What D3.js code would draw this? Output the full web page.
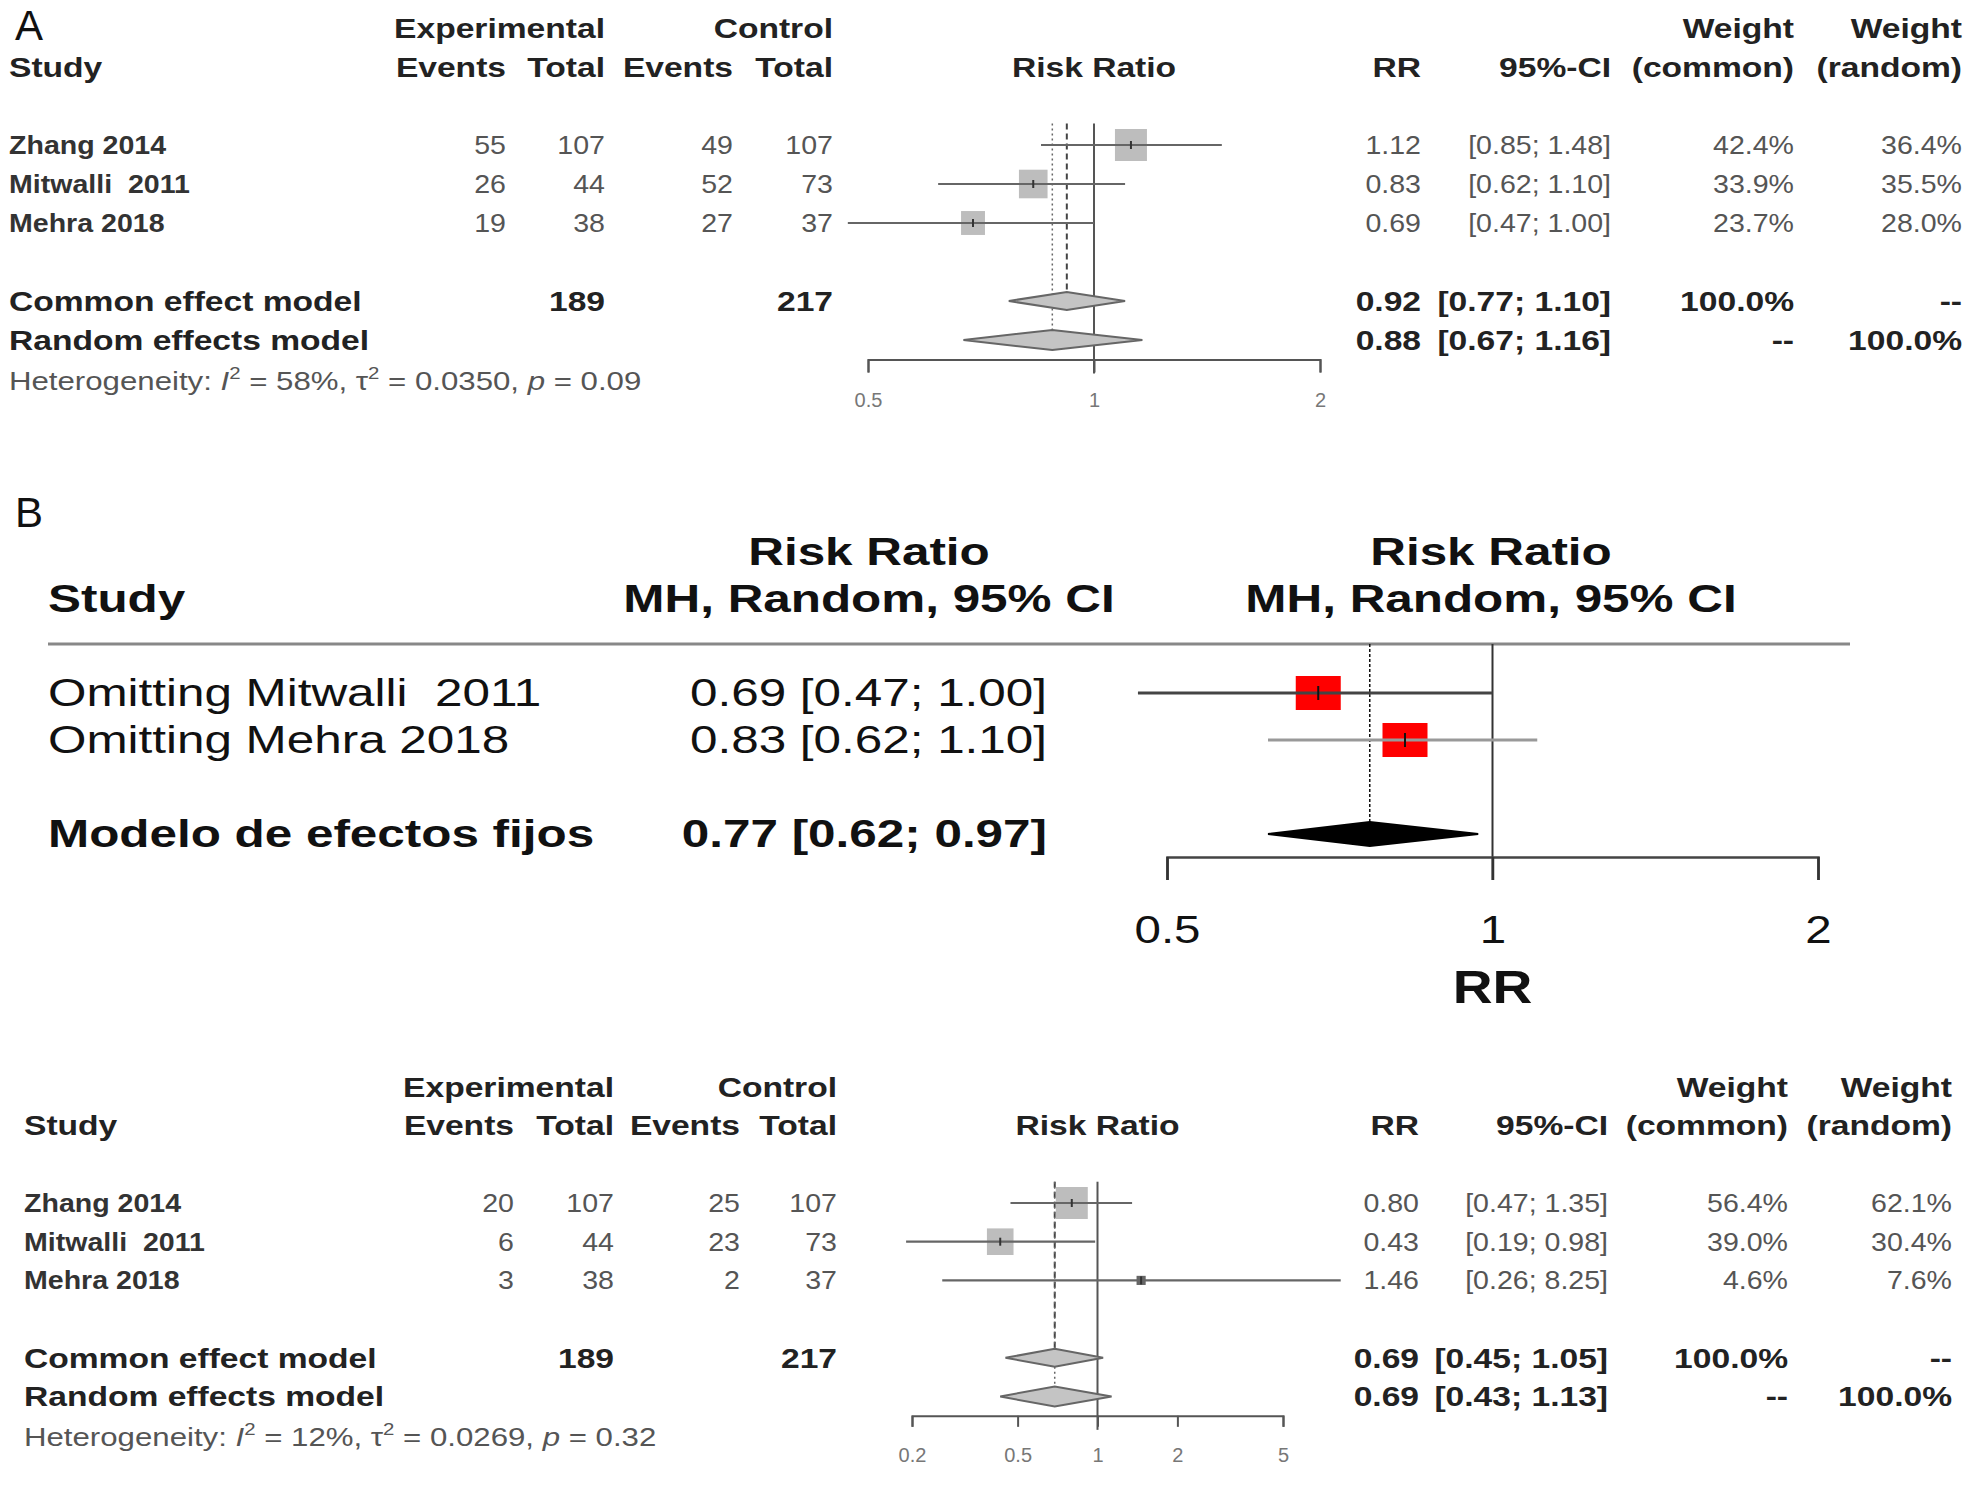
<!DOCTYPE html>
<html>
<head>
<meta charset="utf-8">
<script src="https://cdn.jsdelivr.net/npm/d3@7/dist/d3.min.js"></script>
<style>
body { margin: 0; background: #fff; }
svg { display: block; font-family: "Liberation Sans", Arial, sans-serif; }
svg text { white-space: pre; }
</style>
</head>
<body>
<div id="chart"></div>
<script>
// ---- panel A data
var studiesA = ["Zhang 2014", "Mitwalli  2011", "Mehra 2018"];
var expEventsA = [55, 26, 19];
var expTotalA = [107, 44, 38];
var ctlEventsA = [49, 52, 27];
var ctlTotalA = [107, 73, 37];
var rrA = [1.12, 0.83, 0.69];
var lowerA = [0.85, 0.62, 0.47];
var upperA = [1.48, 1.10, 1.00];
var wCommonA = [42.4, 33.9, 23.7];
var wRandomA = [36.4, 35.5, 28.0];
var commonA = [0.92, 0.77, 1.10];
var randomA = [0.88, 0.67, 1.16];
var sumTotalsA = [189, 217];
var hetA = ["58%", "0.0350", "0.09"];
var ticksA = [0.5, 1, 2];

// ---- panel B data
var studiesB = ["Omitting Mitwalli  2011", "Omitting Mehra 2018"];
var rrB = [0.69, 0.83];
var lowerB = [0.47, 0.62];
var upperB = [1.00, 1.10];
var fixedB = [0.77, 0.62, 0.97];
var ticksB = [0.5, 1, 2];

// ---- panel C data
var studiesC = ["Zhang 2014", "Mitwalli  2011", "Mehra 2018"];
var expEventsC = [20, 6, 3];
var expTotalC = [107, 44, 38];
var ctlEventsC = [25, 23, 2];
var ctlTotalC = [107, 73, 37];
var rrC = [0.80, 0.43, 1.46];
var lowerC = [0.47, 0.19, 0.26];
var upperC = [1.35, 0.98, 8.25];
var wCommonC = [56.4, 39.0, 4.6];
var wRandomC = [62.1, 30.4, 7.6];
var commonC = [0.69, 0.45, 1.05];
var randomC = [0.69, 0.43, 1.13];
var sumTotalsC = [189, 217];
var hetC = ["12%", "0.0269", "0.32"];
var ticksC = [0.2, 0.5, 1, 2, 5];

var width = 1975, height = 1489;
var svg = d3.select("#chart").append("svg")
    .attr("width", width)
    .attr("height", height);
svg.append("rect").attr("width", width).attr("height", height).attr("fill", "#fff");

var f2 = d3.format(".2f");
var f1 = function(v) { return d3.format(".1f")(v) + "%"; };

// text helper, the picture has slightly widened lettering
function label(g, x, y, str, size, sx, o) {
    o = o || {};
    return g.append("text")
        .attr("transform", "translate(" + x + "," + y + ") scale(" + sx + ",1)")
        .attr("dy", "0.35em")
        .attr("text-anchor", o.anchor || "start")
        .attr("font-size", size)
        .attr("font-weight", o.bold ? "bold" : "normal")
        .attr("fill", o.color || "#222")
        .text(str);
}

function diamond(g, x, y, est, lo, hi, h, fill, stroke) {
    var pts = [[x(lo), y], [x(est), y - h], [x(hi), y], [x(est), y + h]];
    g.append("path")
        .attr("d", d3.line()(pts) + "Z")
        .attr("fill", fill)
        .attr("stroke", stroke)
        .attr("stroke-width", 2);
}

// meta-style forest (panels A and C)
function forest(g, d) {
    var row = d3.scaleLinear().domain([0, 1]).range([d.y0, d.y0 + d.step]);
    var x = d3.scaleLog().domain([d.ticks[0], d.ticks[d.ticks.length - 1]]).range(d.xr);
    var side = d3.scaleSqrt().domain([0, d3.max(d.wc)]).range([0, 32]);
    var c = d.cols;
    var hs = 28, hx = 1.2, rs = 25.5, rx = 1.12;

    // headers
    label(g, c.expT, row(-3), "Experimental", hs, hx, {anchor: "end", bold: true});
    label(g, c.ctlT, row(-3), "Control", hs, hx, {anchor: "end", bold: true});
    label(g, c.wc, row(-3), "Weight", hs, hx, {anchor: "end", bold: true});
    label(g, c.wr, row(-3), "Weight", hs, hx, {anchor: "end", bold: true});
    label(g, c.study, row(-2), "Study", hs, hx, {bold: true});
    label(g, c.expE, row(-2), "Events", hs, hx, {anchor: "end", bold: true});
    label(g, c.expT, row(-2), "Total", hs, hx, {anchor: "end", bold: true});
    label(g, c.ctlE, row(-2), "Events", hs, hx, {anchor: "end", bold: true});
    label(g, c.ctlT, row(-2), "Total", hs, hx, {anchor: "end", bold: true});
    label(g, x(1), row(-2), "Risk Ratio", hs, hx, {anchor: "middle", bold: true});
    label(g, c.rr, row(-2), "RR", hs, hx, {anchor: "end", bold: true});
    label(g, c.ci, row(-2), "95%-CI", hs, hx, {anchor: "end", bold: true});
    label(g, c.wc, row(-2), "(common)", hs, hx, {anchor: "end", bold: true});
    label(g, c.wr, row(-2), "(random)", hs, hx, {anchor: "end", bold: true});

    // reference lines
    g.append("line").attr("x1", x(1)).attr("x2", x(1))
        .attr("y1", row(-0.55)).attr("y2", row(5.5) + 14)
        .attr("stroke", "#555").attr("stroke-width", 2);
    g.append("line").attr("x1", x(d.common[0])).attr("x2", x(d.common[0]))
        .attr("y1", row(-0.55)).attr("y2", row(4) - 9)
        .attr("stroke", "#444").attr("stroke-width", 2).attr("stroke-dasharray", "6,4");
    g.append("line").attr("x1", x(d.random[0])).attr("x2", x(d.random[0]))
        .attr("y1", row(-0.55)).attr("y2", row(5) - 10)
        .attr("stroke", "#666").attr("stroke-width", 1.5).attr("stroke-dasharray", "2,3");

    d.studies.forEach(function(s, i) {
        var y = row(i);
        label(g, c.study, y, s, rs, rx, {bold: true, color: "#333"});
        label(g, c.expE, y, d.expE[i], rs, rx, {anchor: "end", color: "#555"});
        label(g, c.expT, y, d.expT[i], rs, rx, {anchor: "end", color: "#555"});
        label(g, c.ctlE, y, d.ctlE[i], rs, rx, {anchor: "end", color: "#555"});
        label(g, c.ctlT, y, d.ctlT[i], rs, rx, {anchor: "end", color: "#555"});
        label(g, c.rr, y, f2(d.rr[i]), rs, rx, {anchor: "end", color: "#555"});
        label(g, c.ci, y, "[" + f2(d.lo[i]) + "; " + f2(d.hi[i]) + "]", rs, rx, {anchor: "end", color: "#555"});
        label(g, c.wc, y, f1(d.wc[i]), rs, rx, {anchor: "end", color: "#555"});
        label(g, c.wr, y, f1(d.wr[i]), rs, rx, {anchor: "end", color: "#555"});

        var sz = side(d.wc[i]);
        g.append("rect")
            .attr("x", x(d.rr[i]) - sz / 2).attr("y", y - sz / 2)
            .attr("width", sz).attr("height", sz)
            .attr("fill", sz < 14 ? "#666" : "#bdbdbd");
        g.append("line")
            .attr("x1", x(d.lo[i])).attr("x2", x(d.hi[i]))
            .attr("y1", y).attr("y2", y)
            .attr("stroke", "#666").attr("stroke-width", 2.2);
        g.append("line")
            .attr("x1", x(d.rr[i])).attr("x2", x(d.rr[i]))
            .attr("y1", y - 4).attr("y2", y + 4)
            .attr("stroke", "#333").attr("stroke-width", 2);
    });

    // summary rows
    label(g, c.study, row(4), "Common effect model", hs, hx, {bold: true});
    label(g, c.expT, row(4), d.totals[0], hs, hx, {anchor: "end", bold: true});
    label(g, c.ctlT, row(4), d.totals[1], hs, hx, {anchor: "end", bold: true});
    label(g, c.rr, row(4), f2(d.common[0]), hs, hx, {anchor: "end", bold: true});
    label(g, c.ci, row(4), "[" + f2(d.common[1]) + "; " + f2(d.common[2]) + "]", hs, hx, {anchor: "end", bold: true});
    label(g, c.wc, row(4), "100.0%", hs, hx, {anchor: "end", bold: true});
    label(g, c.wr, row(4), "--", hs, hx, {anchor: "end", bold: true});
    label(g, c.study, row(5), "Random effects model", hs, hx, {bold: true});
    label(g, c.rr, row(5), f2(d.random[0]), hs, hx, {anchor: "end", bold: true});
    label(g, c.ci, row(5), "[" + f2(d.random[1]) + "; " + f2(d.random[2]) + "]", hs, hx, {anchor: "end", bold: true});
    label(g, c.wc, row(5), "--", hs, hx, {anchor: "end", bold: true});
    label(g, c.wr, row(5), "100.0%", hs, hx, {anchor: "end", bold: true});

    diamond(g, x, row(4), d.common[0], d.common[1], d.common[2], 9, "#c4c4c4", "#666");
    diamond(g, x, row(5), d.random[0], d.random[1], d.random[2], 10, "#c4c4c4", "#666");

    // heterogeneity
    var ht = label(g, c.study, row(6) + 2, "", 26, 1.2, {color: "#555"}).text(null);
    ht.append("tspan").text("Heterogeneity: ");
    ht.append("tspan").attr("font-style", "italic").text("I");
    ht.append("tspan").attr("font-size", 17).attr("dy", -11).text("2");
    ht.append("tspan").attr("dy", 11).text(" = " + d.het[0] + ", \u03c4");
    ht.append("tspan").attr("font-size", 17).attr("dy", -11).text("2");
    ht.append("tspan").attr("dy", 11).text(" = " + d.het[1] + ", ");
    ht.append("tspan").attr("font-style", "italic").text("p");
    ht.append("tspan").text(" = " + d.het[2]);

    // axis
    var ax = g.append("g")
        .attr("transform", "translate(0," + row(5.5) + ")")
        .call(d3.axisBottom(x).tickValues(d.ticks).tickFormat(d3.format("")).tickSizeOuter(0).tickSize(d.tick));
    ax.select(".domain").attr("stroke", "#555").attr("stroke-width", 2);
    ax.selectAll(".tick line").attr("stroke", "#555").attr("stroke-width", 2);
    ax.selectAll(".tick text")
        .attr("y", d.labelOff).attr("dy", "0.35em")
        .attr("font-size", 20).attr("fill", "#777")
        .attr("font-family", "Liberation Sans, Arial, sans-serif");
}

// ---- panel A
var gA = svg.append("g");
gA.append("text").attr("x", 15).attr("y", 40).attr("font-size", 42).attr("fill", "#111").text("A");
forest(gA, {
    studies: studiesA, expE: expEventsA, expT: expTotalA, ctlE: ctlEventsA, ctlT: ctlTotalA,
    rr: rrA, lo: lowerA, hi: upperA, wc: wCommonA, wr: wRandomA,
    common: commonA, random: randomA, totals: sumTotalsA, het: hetA, ticks: ticksA,
    y0: 145, step: 39, xr: [868, 1320], tick: 13, labelOff: 40,
    cols: {study: 9, expE: 506, expT: 605, ctlE: 733, ctlT: 833, rr: 1421, ci: 1611, wc: 1794, wr: 1962}
});

// ---- panel B
var gB = svg.append("g");
gB.append("text").attr("x", 15).attr("y", 527).attr("font-size", 42).attr("fill", "#111").text("B");
var rowB = d3.scaleLinear().domain([0, 1]).range([693, 740]);
var xB = d3.scaleLog().domain([0.5, 2]).range([1167, 1818]);
var bs = 38, bx = 1.3;

label(gB, 869, rowB(-3), "Risk Ratio", bs, bx, {anchor: "middle", bold: true, color: "#111"});
label(gB, 869, rowB(-2), "MH, Random, 95% CI", bs, bx, {anchor: "middle", bold: true, color: "#111"});
label(gB, 1491, rowB(-3), "Risk Ratio", bs, bx, {anchor: "middle", bold: true, color: "#111"});
label(gB, 1491, rowB(-2), "MH, Random, 95% CI", bs, bx, {anchor: "middle", bold: true, color: "#111"});
label(gB, 48, rowB(-2), "Study", bs, bx, {bold: true, color: "#111"});

gB.append("line").attr("x1", 48).attr("x2", 1850)
    .attr("y1", rowB(-1) - 2).attr("y2", rowB(-1) - 2)
    .attr("stroke", "#888").attr("stroke-width", 3);

gB.append("line").attr("x1", xB(1)).attr("x2", xB(1))
    .attr("y1", rowB(-1) - 2).attr("y2", 880)
    .attr("stroke", "#333").attr("stroke-width", 2);
gB.append("line").attr("x1", xB(fixedB[0])).attr("x2", xB(fixedB[0]))
    .attr("y1", rowB(-1) - 2).attr("y2", rowB(3) - 12)
    .attr("stroke", "#111").attr("stroke-width", 1.5).attr("stroke-dasharray", "3,2");

var ciColB = ["#444", "#999"];
studiesB.forEach(function(s, i) {
    var y = rowB(i);
    label(gB, 48, y, s, bs, bx, {color: "#111"});
    label(gB, 1047, y, f2(rrB[i]) + " [" + f2(lowerB[i]) + "; " + f2(upperB[i]) + "]", bs, bx, {anchor: "end", color: "#111"});
    gB.append("rect")
        .attr("x", xB(rrB[i]) - 22.5).attr("y", y - 17)
        .attr("width", 45).attr("height", 34)
        .attr("fill", "#ff0000");
    gB.append("line")
        .attr("x1", xB(lowerB[i])).attr("x2", xB(upperB[i]))
        .attr("y1", y).attr("y2", y)
        .attr("stroke", ciColB[i]).attr("stroke-width", 3);
    gB.append("line")
        .attr("x1", xB(rrB[i])).attr("x2", xB(rrB[i]))
        .attr("y1", y - 7).attr("y2", y + 7)
        .attr("stroke", "#111").attr("stroke-width", 2);
});

label(gB, 48, rowB(3), "Modelo de efectos fijos", bs, bx, {bold: true, color: "#111"});
label(gB, 1047, rowB(3), f2(fixedB[0]) + " [" + f2(fixedB[1]) + "; " + f2(fixedB[2]) + "]", bs, bx, {anchor: "end", bold: true, color: "#111"});
diamond(gB, xB, rowB(3), fixedB[0], fixedB[1], fixedB[2], 12, "#000", "#000");

var axB = gB.append("g")
    .attr("transform", "translate(0,857)")
    .call(d3.axisBottom(xB).tickValues(ticksB).tickFormat(d3.format("")).tickSizeOuter(0).tickSize(23));
axB.select(".domain").attr("stroke", "#444").attr("stroke-width", 2.5);
axB.selectAll(".tick line").attr("stroke", "#333").attr("stroke-width", 2.5);
axB.selectAll(".tick text")
    .attr("y", 73).attr("dy", "0.35em")
    .attr("transform", "scale(1.25,1)")
    .attr("font-size", 38).attr("fill", "#111")
    .attr("font-family", "Liberation Sans, Arial, sans-serif");
label(gB, xB(1), 987, "RR", 46, 1.2, {anchor: "middle", bold: true, color: "#111"});

// ---- panel C
var gC = svg.append("g");
forest(gC, {
    studies: studiesC, expE: expEventsC, expT: expTotalC, ctlE: ctlEventsC, ctlT: ctlTotalC,
    rr: rrC, lo: lowerC, hi: upperC, wc: wCommonC, wr: wRandomC,
    common: commonC, random: randomC, totals: sumTotalsC, het: hetC, ticks: ticksC,
    y0: 1203, step: 38.7, xr: [912, 1283], tick: 11, labelOff: 39,
    cols: {study: 24, expE: 514, expT: 614, ctlE: 740, ctlT: 837, rr: 1419, ci: 1608, wc: 1788, wr: 1952}
});
</script>
</body>
</html>
